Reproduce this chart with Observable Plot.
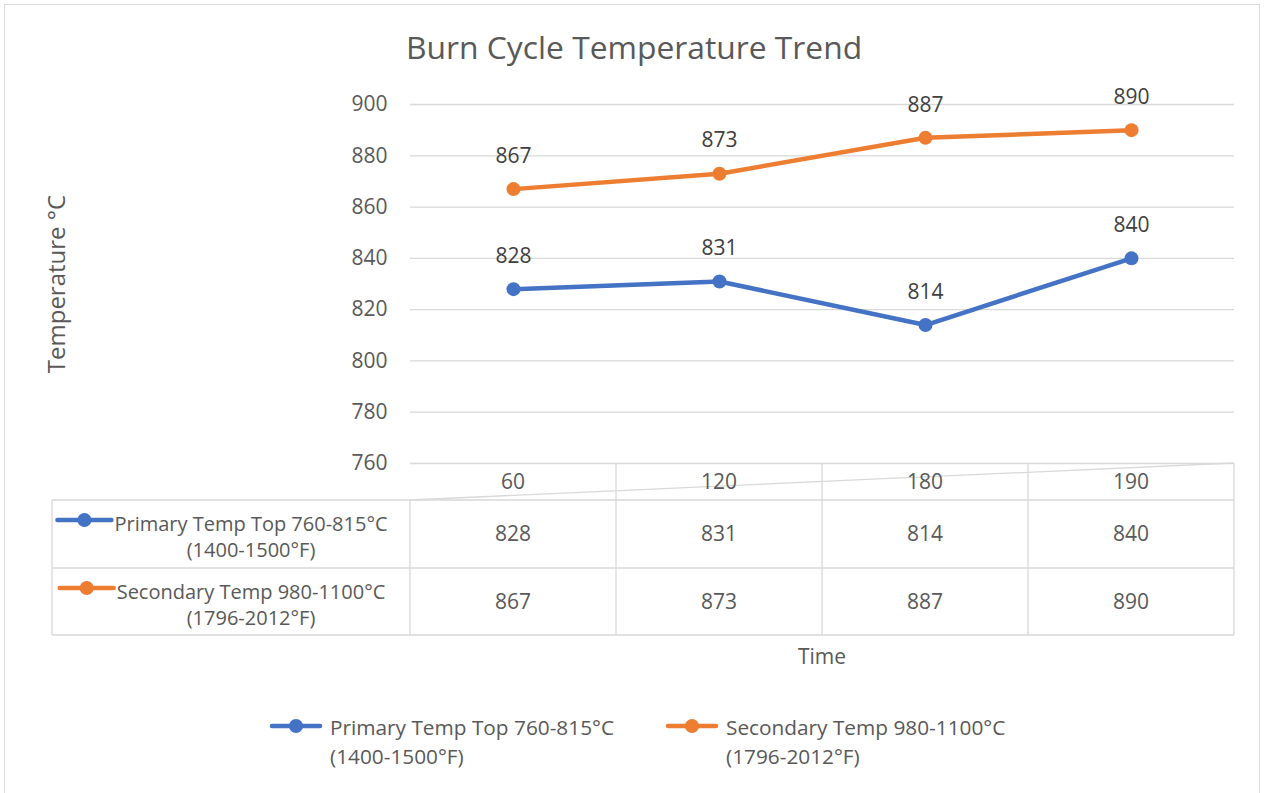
<!DOCTYPE html>
<html><head><meta charset="utf-8">
<script src="https://cdn.jsdelivr.net/npm/d3@7"></script>
<script src="https://cdn.jsdelivr.net/npm/@observablehq/plot@0.6"></script>
<style>
html,body{margin:0;padding:0;background:#fff}
#wrap{position:relative;width:1265px;height:793px;overflow:hidden;font-family:"Open Sans",sans-serif;color:#595959}
#border{position:absolute;left:4px;top:4px;width:1256px;height:820px;border:1.5px solid #d9d9d9;box-sizing:border-box}
#title{position:absolute;left:0;width:1265px;top:25px;text-align:left;padding-left:406px;box-sizing:border-box;font-size:31.8px;color:#595959;white-space:nowrap}
#chart{position:absolute;left:0;top:0}
</style></head>
<body><div id="wrap"><div id="border"></div><div id="chart"></div><div id="title">Burn Cycle Temperature Trend</div></div>
<script>
const times = ["60", "120", "180", "190"];
const primary = [828, 831, 814, 840];
const secondary = [867, 873, 887, 890];
const seriesKeys = ["Primary", "Secondary"];
const seriesLabels = [["Primary Temp Top 760-815°C", "(1400-1500°F)"], ["Secondary Temp 980-1100°C", "(1796-2012°F)"]];
const colors = ["#4472C4", "#ED7D31"];
const yTicks = [760, 780, 800, 820, 840, 860, 880, 900];
const xTitle = "Time";
const yTitle = "Temperature °C";

const seriesValues = [primary, secondary];
const data = seriesKeys.flatMap((s, k) => times.map((t, i) => ({series: s, time: t, value: seriesValues[k][i]})));

const W = 1265, H = 793;
const chart = Plot.plot({
  width: W, height: H,
  marginLeft: 410, marginRight: 31, marginTop: 104, marginBottom: 330,
  style: {fontFamily: "Open Sans", fontSize: "21px", color: "#595959", background: "transparent", overflow: "visible"},
  x: {type: "point", domain: times, padding: 0.5, axis: null},
  y: {domain: [760, 900], ticks: yTicks},
  color: {domain: seriesKeys, range: colors},
  marks: [
    Plot.gridY(yTicks, {stroke: "#d9d9d9", strokeOpacity: 1, strokeWidth: 1.3}),
    Plot.axisY(yTicks, {tickSize: 0, tickPadding: 23, fontSize: 21, fill: "#595959",
      label: yTitle, labelAnchor: "center", labelArrow: "none", labelOffset: 363}),
    Plot.line(data, {x: "time", y: "value", z: "series", stroke: "series", strokeWidth: 4.5, strokeLinecap: "round"}),
    Plot.dot(data, {x: "time", y: "value", fill: "series", r: 7}),
    Plot.text(data, {x: "time", y: "value", text: d => String(d.value), dy: -33, fontSize: 21, fill: "#404040"})
  ]
});
document.getElementById("chart").appendChild(chart);
d3.select(chart).selectAll('[aria-label="y-axis label"]').attr("font-size", 24);

// data table beneath the plot, positioned from the chart's own scales
const xs = chart.scale("x"), ys = chart.scale("y");
const step = xs.apply(times[1]) - xs.apply(times[0]);
const colL = t => xs.apply(t) - step / 2;
const left0 = xs.apply(times[0]) - step / 2;
const right0 = xs.apply(times[times.length - 1]) + step / 2;
const yTop = ys.apply(760);
const rowHead = yTop + 37, row1 = rowHead + 68, row2 = row1 + 67;
const tableLeft = 52;
const svg = d3.select(chart);
const g = svg.append("g").attr("stroke", "#d9d9d9").attr("stroke-width", 1.3).attr("fill", "none");
[rowHead, row1, row2].forEach(y => g.append("line").attr("x1", tableLeft).attr("x2", right0).attr("y1", y).attr("y2", y));
g.append("line").attr("x1", tableLeft).attr("x2", tableLeft).attr("y1", rowHead).attr("y2", row2);
g.append("line").attr("x1", left0).attr("x2", left0).attr("y1", rowHead).attr("y2", row2);
times.forEach((t, i) => {
  if (i > 0) g.append("line").attr("x1", colL(t)).attr("x2", colL(t)).attr("y1", yTop).attr("y2", row2);
});
g.append("line").attr("x1", right0).attr("x2", right0).attr("y1", yTop).attr("y2", row2);
g.append("line").attr("x1", left0).attr("y1", rowHead).attr("x2", right0).attr("y2", yTop);

const tg = svg.append("g").attr("font-family", "Open Sans").attr("font-size", 20).attr("fill", "#595959").attr("text-anchor", "middle");
times.forEach((t, i) => {
  tg.append("text").attr("x", xs.apply(t)).attr("y", (yTop + rowHead) / 2).attr("dy", "0.35em").attr("font-size", 21).text(t);
  tg.append("text").attr("x", xs.apply(t)).attr("y", (rowHead + row1) / 2).attr("dy", "0.35em").attr("font-size", 21).text(primary[i]);
  tg.append("text").attr("x", xs.apply(t)).attr("y", (row1 + row2) / 2).attr("dy", "0.35em").attr("font-size", 21).text(secondary[i]);
});
[[rowHead, row1], [row1, row2]].forEach(([a, b], k) => {
  const cx = 251, c = colors[k];
  const t1 = tg.append("text").attr("x", cx).attr("y", a + 24).attr("dy", "0.35em").text(seriesLabels[k][0]);
  tg.append("text").attr("x", cx).attr("y", a + 50).attr("dy", "0.35em").text(seriesLabels[k][1]);
  const bb = t1.node().getBBox();
  const mx1 = bb.x - 3, mx0 = mx1 - 54, my = a + 20;
  svg.append("line").attr("x1", mx0).attr("x2", mx1).attr("y1", my).attr("y2", my).attr("stroke", c).attr("stroke-width", 4.5).attr("stroke-linecap", "round");
  svg.append("circle").attr("cx", (mx0 + mx1) / 2).attr("cy", my).attr("r", 7).attr("fill", c);
});
tg.append("text").attr("x", (left0 + right0) / 2).attr("y", 657).attr("dy", "0.35em").attr("font-size", 21).text(xTitle);
// bottom legend
const legX = [330, 726];
const lg = svg.append("g").attr("font-family", "Open Sans").attr("font-size", 20.8).attr("fill", "#595959").attr("text-anchor", "start");
seriesLabels.forEach((lab, k) => {
  const c = colors[k];
  lg.append("text").attr("x", legX[k]).attr("y", 728).attr("dy", "0.35em").text(lab[0]);
  lg.append("text").attr("x", legX[k]).attr("y", 757).attr("dy", "0.35em").text(lab[1]);
  lg.append("line").attr("x1", legX[k] - 58).attr("x2", legX[k] - 10).attr("y1", 726).attr("y2", 726).attr("stroke", c).attr("stroke-width", 4.5).attr("stroke-linecap", "round");
  lg.append("circle").attr("cx", legX[k] - 34).attr("cy", 726).attr("r", 7).attr("fill", c);
});
</script></body></html>
